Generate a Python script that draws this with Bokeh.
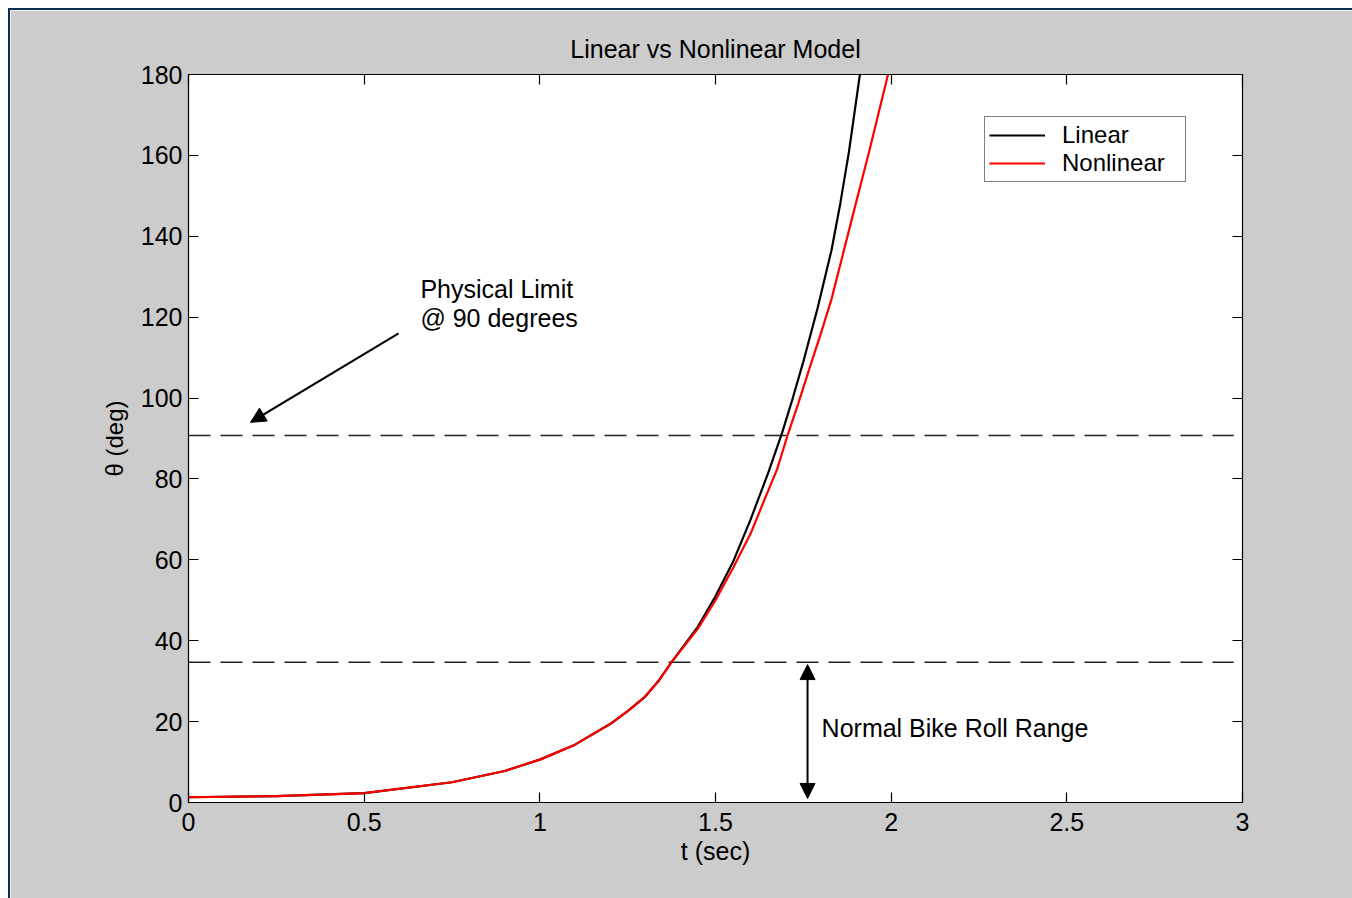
from bokeh.plotting import figure
from bokeh.models import (Range1d, LinearAxis, FixedTicker, Legend, LegendItem,
                          Arrow, NormalHead, Label)
from bokeh.embed import file_html
from bokeh.resources import INLINE

FONT = "Liberation Sans"

# ---- data ----
t_linear = [0.0, 0.25, 0.5, 0.75, 0.9, 1.0, 1.1, 1.2, 1.25, 1.3, 1.34, 1.375, 1.45, 1.5,
            1.55, 1.6, 1.65, 1.69, 1.72, 1.75, 1.79, 1.83, 1.855, 1.88, 1.911]
theta_linear = [1.3, 1.6, 2.3, 5.0, 7.8, 10.6, 14.3, 19.4, 22.6, 26.2, 30.3, 34.7, 43.5, 51.0,
                59.5, 70.0, 81.5, 91.5, 100.0, 109.0, 122.0, 136.5, 148.0, 161.0, 180.0]

t_nonlinear = [0.0, 0.25, 0.5, 0.75, 0.9, 1.0, 1.1, 1.2, 1.25, 1.3, 1.34, 1.375, 1.45, 1.5,
               1.55, 1.6, 1.64, 1.675, 1.705, 1.735, 1.77, 1.8, 1.83, 1.866, 1.902, 1.939, 1.991]
theta_nonlinear = [1.3, 1.6, 2.3, 5.0, 7.8, 10.6, 14.3, 19.4, 22.6, 26.2, 30.3, 34.7, 43.0, 50.0,
                   58.0, 66.5, 75.0, 82.3, 90.75, 98.5, 108.0, 116.0, 124.4, 136.7, 149.0, 161.5, 180.0]

limit_t = [0.0, 2.975]
physical_limit = [90.75, 90.75]
normal_roll_limit = [34.7, 34.7]

x_ticks = [0, 0.5, 1, 1.5, 2, 2.5, 3]
y_ticks = [0, 20, 40, 60, 80, 100, 120, 140, 160, 180]

p = figure(width=1344, height=890, output_backend="svg", toolbar_location=None,
           x_range=Range1d(0, 3), y_range=Range1d(0, 180),
           x_axis_location=None, y_axis_location=None,
           min_border_left=178, min_border_right=112, min_border_top=64, min_border_bottom=98,
           background_fill_color="white", border_fill_color="#cccccc",
           outline_line_color="black", outline_line_width=1)
p.grid.visible = False
p.styles = {"margin-left": "8px", "margin-top": "8px",
            "border-top": "2px solid #0b2d57", "border-left": "2px solid #0b2d57"}


def make_axis(ticks, labels, label_text=None):
    ax = LinearAxis()
    ax.ticker = FixedTicker(ticks=ticks)
    ax.major_tick_in = 10
    ax.major_tick_out = 0
    ax.minor_tick_in = 0
    ax.minor_tick_out = 0
    ax.axis_line_color = "black"
    ax.axis_line_width = 1.2
    ax.major_tick_line_color = "black"
    ax.major_tick_line_width = 1.2
    ax.major_label_text_font = FONT
    ax.major_label_text_font_size = "25px"
    ax.major_label_text_color = "black"
    if not labels:
        ax.major_label_overrides = {tk: "" for tk in ticks}
        ax.major_label_standoff = 0
    if label_text:
        ax.axis_label = label_text
        ax.axis_label_text_font = FONT
        ax.axis_label_text_font_size = "25px"
        ax.axis_label_text_font_style = "normal"
        ax.axis_label_text_color = "black"
    return ax


xb = make_axis(x_ticks, True, "t (sec)")
xb.major_label_standoff = 10
xb.axis_label_standoff = 3
yl = make_axis(y_ticks, True, "θ (deg)")
yl.major_label_standoff = 6
yl.axis_label_standoff = 10
yl.axis_label_text_font_size = "24px"
xt = make_axis(x_ticks, False)
yr = make_axis(y_ticks, False)
p.add_layout(xb, "below")
p.add_layout(yl, "left")
p.add_layout(xt, "above")
p.add_layout(yr, "right")

p.title.text = "Linear vs Nonlinear Model"
p.title.align = "center"
p.title.text_font = FONT
p.title.text_font_size = "25px"
p.title.text_font_style = "normal"
p.title.text_color = "black"
p.title.standoff = 24

# reference dashed lines
p.line(limit_t, physical_limit, line_color="#222222", line_width=1.5, line_dash="22 10")
p.line(limit_t, normal_roll_limit, line_color="#222222", line_width=1.5, line_dash="22 10")

r_lin = p.line(t_linear, theta_linear, line_color="black", line_width=2.2)
r_non = p.line(t_nonlinear, theta_nonlinear, line_color="#ff0000", line_width=2.2)

legend = Legend(items=[LegendItem(label="Linear", renderers=[r_lin]),
                       LegendItem(label="Nonlinear", renderers=[r_non])],
                location=(796, 620), orientation="vertical",
                border_line_color="black", border_line_width=1,
                background_fill_color="white", background_fill_alpha=1.0,
                label_text_font=FONT, label_text_font_size="24px", label_text_color="black",
                glyph_width=56, glyph_height=24, label_height=24, label_standoff=17,
                label_width=119, padding=4, spacing=0, margin=0)
p.add_layout(legend)

head = dict(size=15, fill_color="black", line_color="black")
p.add_layout(Arrow(end=NormalHead(**head), x_start=0.598, y_start=116.0,
                   x_end=0.1765, y_end=94.0, line_width=2, line_color="black"))
p.add_layout(Arrow(start=NormalHead(**head), end=NormalHead(**head),
                   x_start=1.762, y_start=1.0, x_end=1.762, y_end=34.1,
                   line_width=2, line_color="black"))

lbl = dict(text_font=FONT, text_font_size="25px", text_color="black", text_baseline="middle")
p.add_layout(Label(x=0.66, y=126.9, text="Physical Limit", **lbl))
p.add_layout(Label(x=0.66, y=119.7, text="@ 90 degrees", **lbl))
p.add_layout(Label(x=1.802, y=18.5, text="Normal Bike Roll Range", **lbl))

open("out.html", "w").write(file_html(p, INLINE))
